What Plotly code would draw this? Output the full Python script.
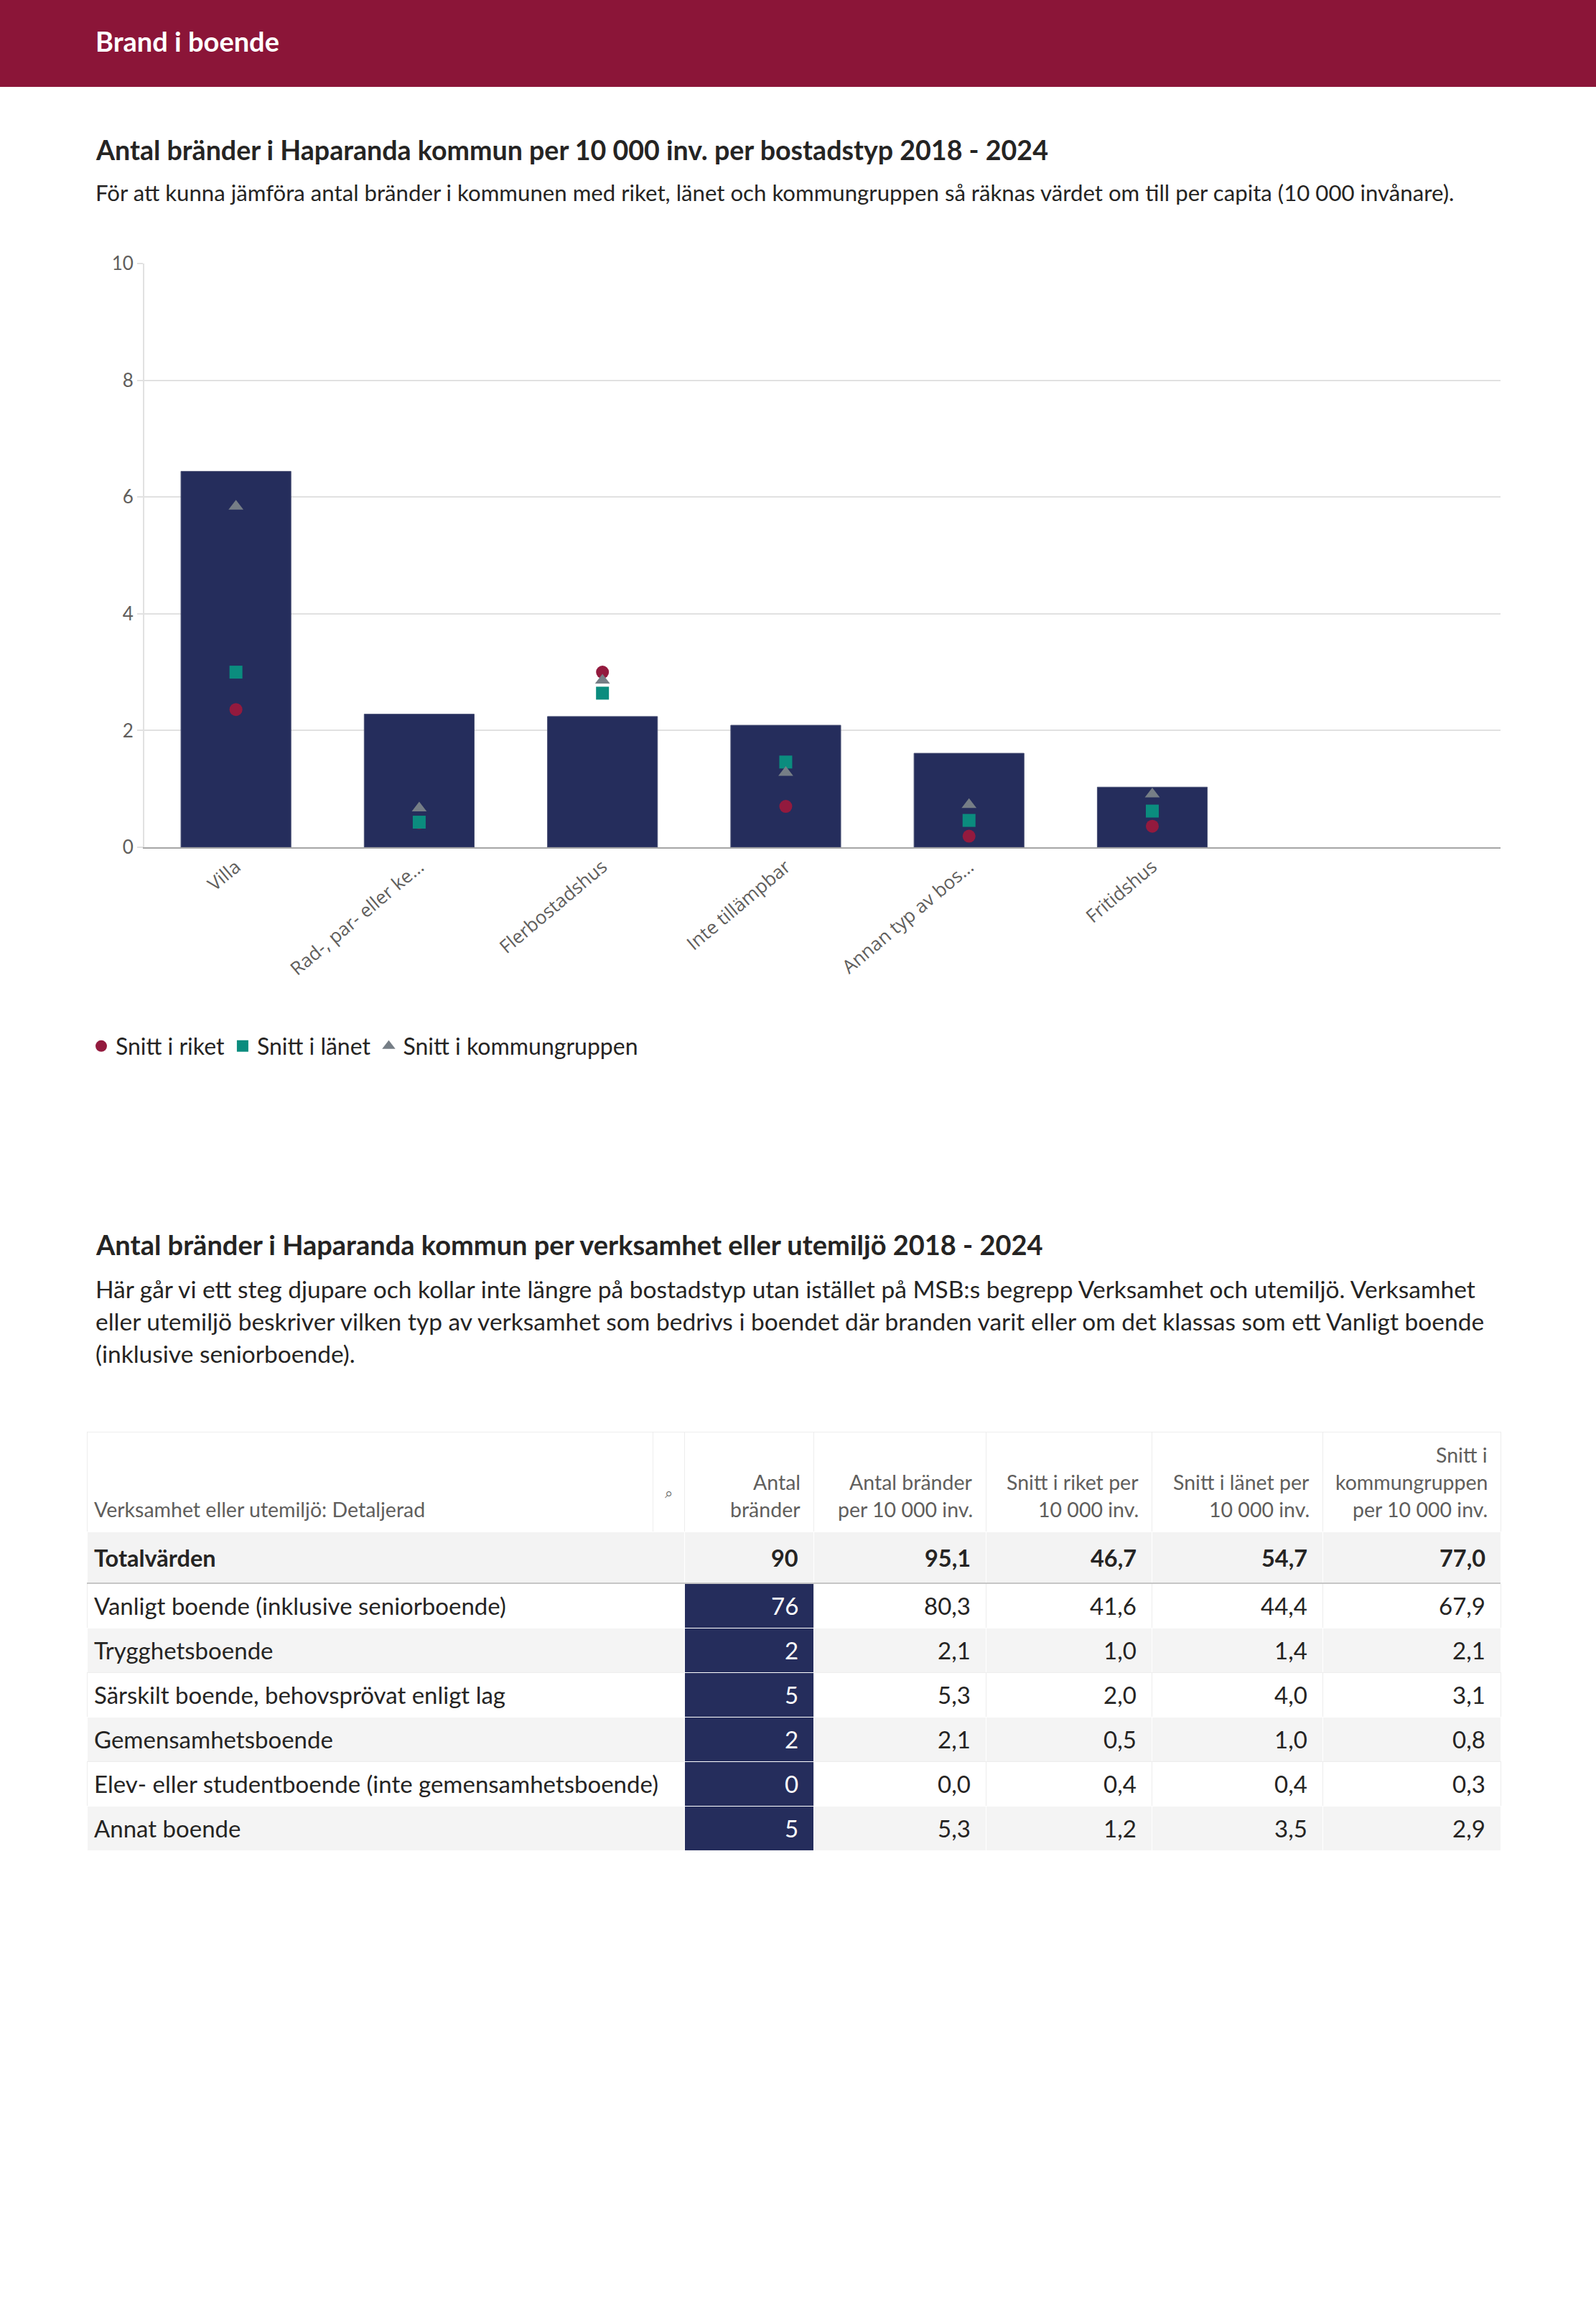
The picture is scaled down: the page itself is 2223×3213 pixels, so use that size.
import plotly.graph_objects as go

W, H = 2223, 3213

# ---------------- data ----------------
header_title = "Brand i boende"
chart_title = "Antal bränder i Haparanda kommun per 10 000 inv. per bostadstyp 2018 - 2024"
chart_subtitle = ("För att kunna jämföra antal bränder i kommunen med riket, länet och kommungruppen "
                  "så räknas värdet om till per capita (10 000 invånare).")

categories = ["Villa", "Rad-, par- eller ke…", "Flerbostadshus", "Inte tillämpbar",
              "Annan typ av bos…", "Fritidshus"]
kommun_values = [6.44, 2.28, 2.24, 2.09, 1.61, 1.03]
riket_values = [2.36, 0.42, 3.00, 0.70, 0.19, 0.36]
lanet_values = [3.00, 0.43, 2.64, 1.46, 0.46, 0.62]
kommungrupp_values = [5.84, 0.67, 2.86, 1.28, 0.73, 0.91]
y_ticks = [0, 2, 4, 6, 8, 10]
series_names = ["Snitt i riket", "Snitt i länet", "Snitt i kommungruppen"]

table_title = "Antal bränder i Haparanda kommun per verksamhet eller utemiljö 2018 - 2024"
table_paragraph_lines = [
    "Här går vi ett steg djupare och kollar inte längre på bostadstyp utan istället på MSB:s begrepp Verksamhet och utemiljö. Verksamhet",
    "eller utemiljö beskriver vilken typ av verksamhet som bedrivs i boendet där branden varit eller om det klassas som ett Vanligt boende",
    "(inklusive seniorboende).",
]
first_header = "Verksamhet eller utemiljö: Detaljerad"
search_icon = "⌕"
value_headers = [
    ["Antal", "bränder"],
    ["Antal bränder", "per 10 000 inv."],
    ["Snitt i riket per", "10 000 inv."],
    ["Snitt i länet per", "10 000 inv."],
    ["Snitt i", "kommungruppen", "per 10 000 inv."],
]
total_label = "Totalvärden"
total_values = [90, 95.1, 46.7, 54.7, 77.0]

row_labels = ["Vanligt boende (inklusive seniorboende)", "Trygghetsboende",
              "Särskilt boende, behovsprövat enligt lag", "Gemensamhetsboende",
              "Elev- eller studentboende (inte gemensamhetsboende)", "Annat boende"]
antal_brander = [76, 2, 5, 2, 0, 5]
brander_per_10000 = [80.3, 2.1, 5.3, 2.1, 0.0, 5.3]
riket_per_10000 = [41.6, 1.0, 2.0, 0.5, 0.4, 1.2]
lanet_per_10000 = [44.4, 1.4, 4.0, 1.0, 0.4, 3.5]
kommungrupp_per_10000 = [67.9, 2.1, 3.1, 0.8, 0.3, 2.9]

# ---------------- styles / layout constants ----------------
MAROON = "#8b1538"
NAVY = "#252d5c"
C_RIKET = "#931a3e"
C_LANET = "#0b8c7e"
C_GRUPP = "#767e86"
TXT = "#252423"
SUB = "#605e5c"
FONT = "Lato"

T_LEFT, T_RIGHT, T_TOP = 121, 2090, 1994          # table frame (px)
HEAD_H, TOTAL_H, ROW_H = 139, 72, 62
COL_W = [832, 180, 240, 231, 238, 248]            # body column widths
ICON_W = 44                                       # search-icon column inside the first header column
PAD_L, PAD_R, PAD_RH = 9, 20, 17


def px(x):
    return x / W


def py(y):
    return 1 - y / H


def fmt(v):
    return f"{v:.1f}".replace(".", ",")


fig = go.Figure()

# ---------------- chart ----------------
fig.add_trace(go.Bar(
    x=categories, y=kommun_values, marker=dict(color=NAVY, line=dict(color="#4a5175", width=1)),
    width=0.6, showlegend=False, hoverinfo="skip", xaxis="x", yaxis="y"))

marker_specs = [("circle", C_RIKET), ("square", C_LANET), ("triangle-up", C_GRUPP)]
for name, vals, (sym, col) in zip(series_names,
                                  [riket_values, lanet_values, kommungrupp_values],
                                  marker_specs):
    fig.add_trace(go.Scatter(
        x=categories, y=vals, mode="markers", name=name,
        marker=dict(symbol=sym, color=col, size=18, line=dict(width=0)),
        xaxis="x", yaxis="y"))

# ---------------- table (cell fills / borders) ----------------
n = len(row_labels)
tx0, tx1 = px(T_LEFT), px(T_RIGHT)
head_cols = [COL_W[0] - ICON_W, ICON_W] + COL_W[1:]
row_fill = ["white" if i % 2 == 0 else "#f4f4f4" for i in range(n)]
row_line = ["#ededed" if i % 2 == 0 else "white" for i in range(n)]

fig.add_trace(go.Table(
    domain=dict(x=[tx0, tx1], y=[py(T_TOP + HEAD_H + 1), py(T_TOP)]),
    columnwidth=head_cols,
    header=dict(values=[""] * len(head_cols), height=HEAD_H, fill_color="white",
                line=dict(color="#ededed", width=1)),
    cells=dict(values=[[] for _ in head_cols], height=10),
))

body_top = T_TOP + HEAD_H
fig.add_trace(go.Table(
    domain=dict(x=[tx0, tx1], y=[py(body_top + TOTAL_H + n * ROW_H + 30), py(body_top)]),
    columnwidth=COL_W,
    header=dict(values=[""] * len(COL_W), height=TOTAL_H, fill_color="#f3f3f3",
                line=dict(color="white", width=1)),
    cells=dict(
        values=[[""] * n for _ in COL_W],
        height=ROW_H,
        fill_color=[row_fill, [NAVY] * n] + [row_fill] * 4,
        line=dict(color=[row_line, ["white"] * n] + [row_line] * 4, width=1),
    ),
))

# ---------------- table texts, placed on an overlay axis (px units inside table frame) ----------------
col_right = [sum(COL_W[:i + 1]) for i in range(len(COL_W))]
body_cols = [[str(v) for v in antal_brander]] + [
    [fmt(v) for v in arr] for arr in
    [brander_per_10000, riket_per_10000, lanet_per_10000, kommungrupp_per_10000]]

table_texts = []


def add_text(x, y, t, anchor, color, size):
    table_texts.append(dict(
        x=x, y=y, text=t, xref="x2", yref="y2", xanchor=anchor, yanchor="middle",
        showarrow=False, borderpad=0, font=dict(family=FONT, color=color, size=size)))


# header
line_gap, last_line = 38, 108
add_text(PAD_L, last_line, first_header, "left", SUB, 28.5)
add_text(COL_W[0] - ICON_W / 2, 84, search_icon, "center", SUB, 20)
for j, lines in enumerate(value_headers):
    for k, ln in enumerate(reversed(lines)):
        add_text(col_right[j + 1] - PAD_RH, last_line - line_gap * k, ln, "right", SUB, 28.5)
# total row
yc = HEAD_H + TOTAL_H / 2
add_text(PAD_L, yc, f"<b>{total_label}</b>", "left", TXT, 32.5)
for j, v in enumerate(total_values):
    add_text(col_right[j + 1] - PAD_R, yc, f"<b>{v if j == 0 else fmt(v)}</b>", "right", TXT, 32.5)
# body rows
for i in range(n):
    yc = HEAD_H + TOTAL_H + ROW_H * (i + 0.5)
    add_text(PAD_L, yc, row_labels[i], "left", TXT, 33)
    for j, colvals in enumerate(body_cols):
        add_text(col_right[j + 1] - PAD_R, yc, colvals[i], "right", "white" if j == 0 else TXT, 33)

table_h = HEAD_H + TOTAL_H + n * ROW_H

# ---------------- layout ----------------
annotations = [
    dict(text=f"<b>{header_title}</b>", x=px(131), y=py(57), font=dict(size=38, color="white")),
    dict(text=f"<b>{chart_title}</b>", x=px(131), y=py(209), font=dict(size=37.6, color=TXT)),
    dict(text=chart_subtitle, x=px(131), y=py(268), font=dict(size=31.2, color=TXT)),
    dict(text=f"<b>{table_title}</b>", x=px(131), y=py(1733), font=dict(size=38, color=TXT)),
]
for i, line in enumerate(table_paragraph_lines):
    annotations.append(dict(text=line, x=px(131), y=py(1795 + 45 * i), font=dict(size=33.5, color=TXT)))
for a in annotations:
    a.update(xref="paper", yref="paper", xanchor="left", yanchor="middle", showarrow=False)
    a["font"]["family"] = FONT
annotations += table_texts

shapes = [
    dict(type="rect", xref="paper", yref="paper", x0=0, x1=1, y0=py(121), y1=1,
         fillcolor=MAROON, line=dict(width=0), layer="below"),
    dict(type="line", xref="paper", yref="paper", x0=tx0, x1=tx1,
         y0=py(body_top + TOTAL_H), y1=py(body_top + TOTAL_H),
         line=dict(color="#c6c6c6", width=2)),
]

fig.update_layout(
    width=W, height=H, autosize=False,
    margin=dict(l=0, r=0, t=0, b=0, autoexpand=False),
    paper_bgcolor="white", plot_bgcolor="rgba(0,0,0,0)",
    font=dict(family=FONT, color=TXT),
    annotations=annotations,
    shapes=shapes,
    xaxis=dict(
        domain=[px(201), px(2090)], anchor="y", automargin=False,
        range=[-0.5, 6.9], tickangle=-40,
        tickfont=dict(family="Open Sans", size=26, color=SUB),
        showline=True, linecolor="#a6a6a6", linewidth=2,
        showgrid=False, ticks="", fixedrange=True,
    ),
    yaxis=dict(
        domain=[py(1180), py(367)], anchor="x", automargin=False,
        range=[0, 10], tickvals=y_ticks,
        tickfont=dict(family=FONT, size=26, color=SUB),
        showgrid=True, gridcolor="#e1e1e1", gridwidth=2,
        showline=True, linecolor="#e1e1e1", linewidth=2,
        ticks="outside", ticklen=8, tickcolor="#e1e1e1", tickwidth=2,
        zeroline=False, fixedrange=True,
    ),
    xaxis2=dict(domain=[tx0, tx1], anchor="y2", range=[0, T_RIGHT - T_LEFT],
                visible=False, fixedrange=True, automargin=False),
    yaxis2=dict(domain=[py(T_TOP + table_h), py(T_TOP)], anchor="x2", range=[table_h, 0],
                visible=False, fixedrange=True, automargin=False),
    legend=dict(
        orientation="h", x=px(121), y=py(1457), xanchor="left", yanchor="middle",
        font=dict(family=FONT, size=32, color=TXT), bgcolor="rgba(0,0,0,0)",
        itemclick=False, itemdoubleclick=False,
    ),
)

fig.write_html(
    "out.html",
    config={"displayModeBar": False},
    post_script=(
        "var gd=document.getElementById('{plot_id}');"
        "gd.style.position='absolute';gd.style.top='0px';gd.style.left='0px';"
        "document.body.style.margin='0';document.body.style.padding='0';"
        "document.documentElement.style.overflow='hidden';document.body.style.overflow='hidden';"
    ),
)
